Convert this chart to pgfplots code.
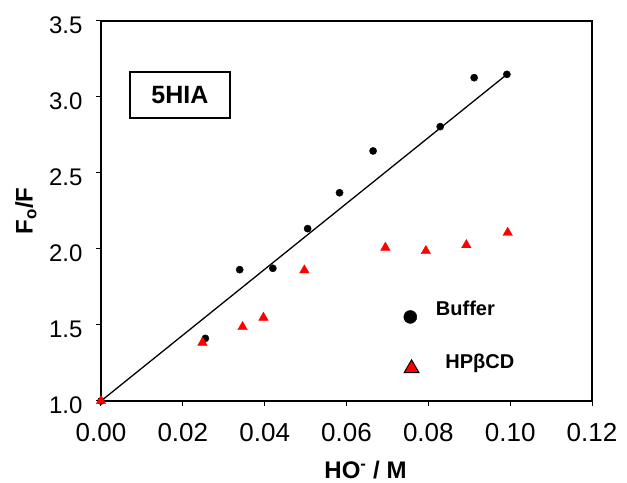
\documentclass[border=0pt]{standalone}
\usepackage{fontspec}
\setmainfont{Liberation Sans}
\usepackage{pgfplots}
\pgfplotsset{compat=1.18}
\begin{document}
\begin{tikzpicture}
\begin{axis}[
  scale only axis, width=491pt, height=380pt,
  xmin=0, xmax=0.12, ymin=1.0, ymax=3.5,
  xtick={0,0.02,...,0.12}, ytick={1.0,1.5,...,3.5},
  /pgf/number format/assume math mode=true,
  xticklabel style={font=\fontsize{26}{30}\selectfont, yshift=-14pt, /pgf/number format/.cd, fixed, fixed zerofill, precision=2},
  yticklabel style={font=\fontsize{24}{28}\selectfont, xshift=-10pt, yshift=-4pt, /pgf/number format/.cd, fixed, fixed zerofill, precision=1},
  scaled x ticks=false,
  tick align=outside, tick pos=left,
  major tick length=5pt,
  axis line style={line width=1.3pt},
  every tick/.style={black, line width=1pt},
  xlabel={\textbf{HO\textsuperscript{-} / M}},
  ylabel={\textbf{F\textsubscript{o}/F}},
  label style={font=\fontsize{24}{28}\selectfont},
  xlabel style={at={(axis description cs:0.5,0)}, anchor=center, yshift=-69pt, xshift=19pt},
  ylabel style={at={(axis description cs:0,0.5)}, anchor=center, yshift=75pt},
  clip=false,
]
\path (rel axis cs:0,0) ++(-101pt,-80pt) coordinate (bl);
\path (rel axis cs:1,1) ++(35pt,21pt) coordinate (tr);
\path (bl) (tr);
\addplot[black, line width=1.3pt, no markers] coordinates {(0,1.0) (0.0995,3.155)};
\addplot[only marks, mark=*, mark size=3.6pt, black] coordinates {
(0,1.0) (0.0255,1.412) (0.0339,1.864) (0.0420,1.873) (0.0505,2.134) (0.0583,2.370)
(0.0665,2.645) (0.0829,2.805) (0.0912,3.127) (0.0992,3.149)};
\addplot[only marks, mark=triangle*, mark size=5.5pt, draw=red, fill=red] coordinates {
(0,1.0) (0.0248,1.384) (0.0346,1.487) (0.0397,1.548) (0.0497,1.86) (0.0695,2.009)
(0.0794,1.987) (0.0893,2.026) (0.0994,2.107)};
% legend markers
\addplot[only marks, mark=*, mark size=6.5pt, black] coordinates {(0.0756,1.553)};
\addplot[only marks, mark=triangle*, mark size=8.5pt, draw=black, fill=red, line width=1pt] coordinates {(0.0759,1.215)};
\node[anchor=west, font=\fontsize{20}{24}\selectfont\bfseries] at (axis cs:0.0810,1.61) {Buffer};
\node[anchor=west, font=\fontsize{20}{24}\selectfont\bfseries] at (axis cs:0.0833,1.25) {HPβCD};
\node[draw=black, line width=1.2pt, minimum width=100pt, minimum height=46pt, font=\fontsize{25}{30}\selectfont\bfseries] at (axis cs:0.0193,3.013) {5HIA};
\end{axis}
\end{tikzpicture}
\end{document}
